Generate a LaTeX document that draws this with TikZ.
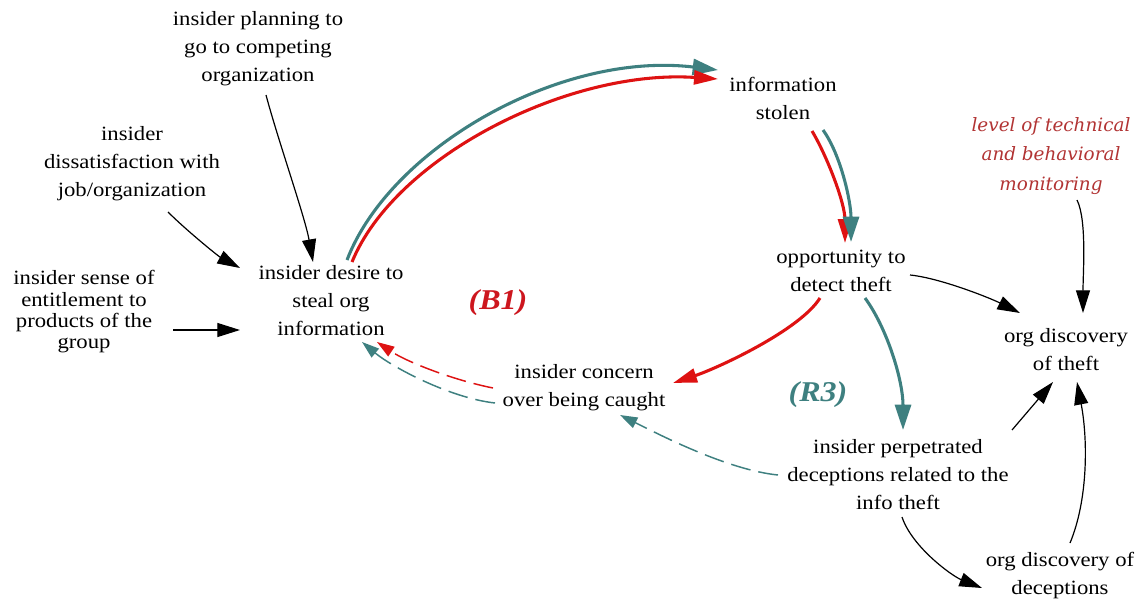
\documentclass[tikz,border=0pt]{standalone}
\usepackage{fontspec}
\setmainfont{Liberation Serif}[FakeStretch=1.12]
\newfontfamily\monfont{DejaVu Serif}
\usetikzlibrary{arrows.meta,calc}
\definecolor{teal1}{RGB}{62,128,128}
\definecolor{red1}{RGB}{222,18,18}
\definecolor{redtxt}{RGB}{178,52,52}
\definecolor{b1red}{RGB}{205,22,30}
\tikzset{
  txt/.style={inner sep=0pt, align=center, font=\fontsize{15.2}{21}\selectfont},
  txtt/.style={inner sep=0pt, align=center, font=\fontsize{15.2}{16}\selectfont},
  montxt/.style={inner sep=0pt, align=center, text=redtxt, font=\monfont\itshape\fontsize{13.8}{22}\selectfont},
  looplbl/.style={inner sep=0pt, font=\bfseries\itshape\fontsize{21.5}{24}\selectfont},
  blk/.style={draw=black, line width=0.9pt, -{Triangle[length=17pt,width=10.5pt]}},
  tealarr/.style={draw=teal1, line width=2.3pt, -{Triangle[length=19pt,width=12pt]}},
  redarr/.style={draw=red1, line width=2.3pt, -{Triangle[length=18pt,width=10.5pt]}},
  tealdash/.style={draw=teal1, line width=1.1pt, dash pattern=on 15pt off 6pt, -{Triangle[length=13pt,width=8.5pt]}},
  reddash/.style={draw=red1, line width=1.1pt, dash pattern=on 15pt off 6pt, -{Triangle[length=13pt,width=8.5pt]}},
}
\begin{document}
\begin{tikzpicture}[x=0.75pt,y=-0.75pt]
\fill[white] (0,0) rectangle (1139,603);
\useasboundingbox (0,0) rectangle (1139,603);

\node[txt] (plan) at (258,49) {insider planning to\\go to competing\\organization};
\node[txt] (dissat) at (132,164) {insider\\dissatisfaction with\\job/organization};
\node[txtt] (entitle) at (84,312) {insider sense of\\entitlement to\\products of the\\group};
\node[txt] (desire) at (331,301) {insider desire to\\steal org\\information};
\node[txt] (stolen) at (783,98) {information\\stolen};
\node[txt] (opp) at (841,271) {opportunity to\\detect theft};
\node[montxt] (monitor) at (1051,156) {level of technical\\and behavioral\\monitoring};
\node[txt] (orgtheft) at (1066,350) {org discovery\\of theft};
\node[txt] (concern) at (584,388) {insider concern\\over being caught};
\node[txt] (perp) at (898,475) {insider perpetrated\\deceptions related to the\\info theft};
\node[txt] (decept) at (1060,576) {org discovery of\\deceptions};
\node[looplbl, text=b1red] (b1) at (498,303) {(B1)};
\node[looplbl, text=teal1] (r3) at (818,395) {(R3)};

% black inputs
\draw[blk] ($(plan)+(8,46)$) .. controls +(12,45) and +(-8,-45) .. ($(desire)+(-18,-39)$);
\draw[blk] ($(dissat)+(36,48)$) .. controls +(18,18) and +(-22,-12) .. ($(desire)+(-91,-33)$);
\draw[blk] ($(entitle)+(89,18)$) -- ($(desire)+(-91,29)$);

% desire -> information stolen
\draw[tealarr] ($(desire)+(16,-41)$) .. controls +(43,-112) and +(-158,-19) .. ($(stolen)+(-65,-28)$);
\draw[redarr] ($(desire)+(21,-39)$) .. controls +(43,-105) and +(-150,-10) .. ($(stolen)+(-65,-19)$);

% stolen -> opportunity
\draw[redarr] ($(stolen)+(29,33)$) .. controls +(15,25) and +(0,-40) .. ($(opp)+(4,-28)$);
\draw[tealarr] ($(stolen)+(40,32)$) .. controls +(18,25) and +(0,-40) .. ($(opp)+(10,-29)$);

% opportunity -> concern / perpetrated / org discovery
\draw[redarr] ($(opp)+(-21,27)$) .. controls +(-20,32) and +(45,-15) .. ($(concern)+(89,-5)$);
\draw[tealarr] ($(opp)+(24,27)$) .. controls +(22,30) and +(0,-50) .. ($(perp)+(5,-45)$);
\draw[blk] ($(opp)+(69,4)$) .. controls +(30,3) and +(-30,-15) .. ($(orgtheft)+(-46,-37)$);

% monitoring -> org discovery
\draw[blk] ($(monitor)+(26,44)$) .. controls +(10,20) and +(0,-40) .. ($(orgtheft)+(17,-37)$);

% perpetrated -> org discovery, deceptions
\draw[blk] ($(perp)+(114,-45)$) -- ($(orgtheft)+(-13,32)$);
\draw[blk] ($(decept)+(10,-33)$) .. controls +(18,-43) and +(11,58) .. ($(orgtheft)+(11,32)$);
\draw[blk] ($(perp)+(4,42)$) .. controls +(10,30) and +(-30,-12) .. ($(decept)+(-78,12)$);

% concern -> desire (dashed)
\draw[reddash] ($(concern)+(-91,0)$) .. controls +(-40,-8) and +(30,20) .. ($(desire)+(46,41)$);
\draw[tealdash] ($(concern)+(-89,15)$) .. controls +(-45,-5) and +(30,25) .. ($(desire)+(31,41)$);

% perpetrated -> concern (dashed)
\draw[tealdash] ($(perp)+(-120,0)$) .. controls +(-50,-5) and +(40,20) .. ($(concern)+(36,27)$);
\end{tikzpicture}
\end{document}
